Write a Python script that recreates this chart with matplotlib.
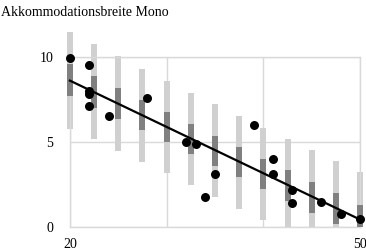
import numpy as np
import matplotlib
matplotlib.use("Agg")
import matplotlib.pyplot as plt

# age groups (bar centres)
ages = [20, 22.5, 25, 27.5, 30, 32.5, 35, 37.5, 40, 42.5, 45, 47.5, 50]
# light range (outer) and dark range (inner)
light_lo = [5.75, 5.15, 4.46, 3.80, 3.16, 2.46, 1.75, 1.05, 0.43, 0.0, 0.0, 0.0, 0.0]
light_hi = [11.48, 10.76, 10.04, 9.30, 8.57, 7.89, 7.21, 6.53, 5.85, 5.20, 4.56, 3.90, 3.25]
dark_lo = [7.70, 7.00, 6.33, 5.69, 4.99, 4.27, 3.58, 2.92, 2.22, 1.56, 0.85, 0.19, 0.0]
dark_hi = [9.55, 8.85, 8.17, 7.44, 6.76, 6.08, 5.38, 4.68, 3.99, 3.35, 2.67, 1.99, 1.30]

# measured subjects
pt_age = [20, 22, 22, 22, 22, 24, 28, 32, 33, 34, 35, 39, 41, 41, 43, 43, 46, 48, 50]
pt_val = [9.9, 9.5, 8.0, 7.8, 7.1, 6.5, 7.6, 5.0, 4.9, 1.8, 3.1, 6.0, 4.0, 3.1, 2.2, 1.4, 1.5, 0.8, 0.5]

# regression line
line_x = [20, 50]
line_y = [8.6, 0.45]

plt.rcParams['font.family'] = ['Liberation Serif', 'DejaVu Serif']

fig = plt.figure(figsize=(3.66, 2.5), dpi=100)
ax = fig.add_axes([0.191, 0.091, 0.793, 0.682])

ages = np.array(ages)
light_lo = np.array(light_lo); light_hi = np.array(light_hi)
dark_lo = np.array(dark_lo); dark_hi = np.array(dark_hi)

ax.bar(ages, light_hi - light_lo, bottom=light_lo, width=0.62, color='#d0d0d0',
       zorder=2, clip_on=False)
ax.bar(ages, dark_hi - dark_lo, bottom=dark_lo, width=0.62, color='#808080',
       zorder=3, clip_on=False)
ax.plot(line_x, line_y, color='black', lw=1.6, zorder=4, clip_on=False)
ax.scatter(pt_age, pt_val, s=42, color='black', zorder=5, clip_on=False, linewidths=0)

ax.set_xlim(20, 50)
ax.set_ylim(0, 10)
ax.set_xticks([20, 30, 40, 50])
ax.set_xticklabels(['20', '', '', '50'])
ax.set_yticks([0, 5, 10])
ax.tick_params(length=0, labelsize=10, colors='black')
ax.tick_params(axis='y', pad=12)
ax.tick_params(axis='x', pad=8)
ax.grid(True, color='#d9d9d9', lw=1, zorder=0)
ax.set_axisbelow(True)
for s in ax.spines.values():
    s.set_color('#d9d9d9')
    s.set_linewidth(1)

fig.text(0.003, 0.952, 'Akkommodationsbreite Mono', fontsize=10, va='center', ha='left')

fig.savefig('out.png', dpi=100)
